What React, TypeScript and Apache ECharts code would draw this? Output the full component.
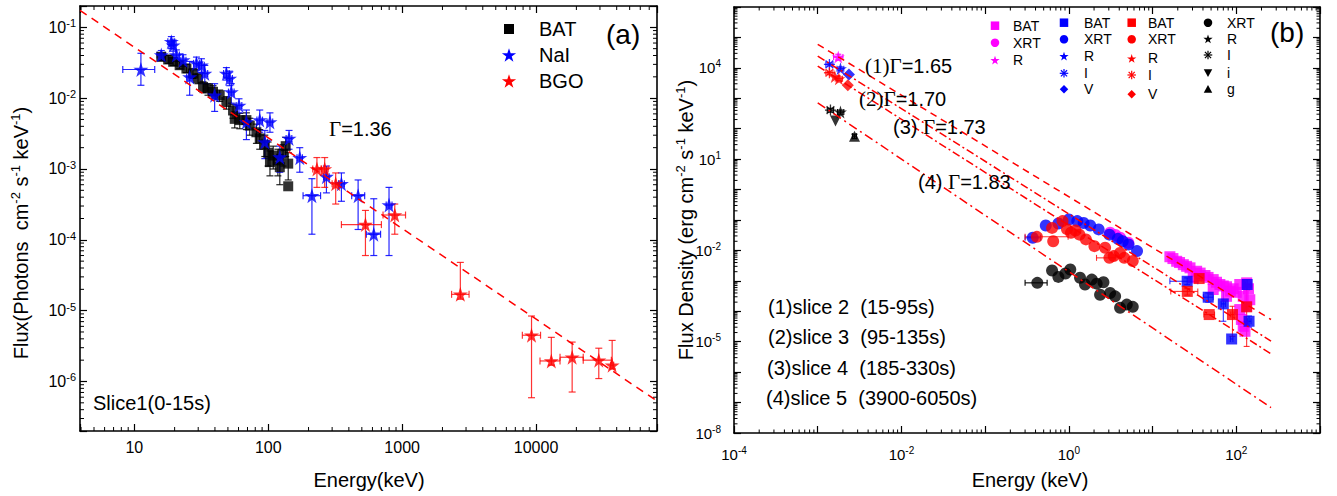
import React, { useEffect, useRef } from 'react';
import * as echarts from 'echarts';

const SANS = '"Liberation Sans", Arial, sans-serif';
const SERIF = '"Liberation Serif", "Times New Roman", serif';
const SP2 = '\u00a0\u00a0';

// ---------------- Panel (a) ----------------
const aXRange = [3.93, 80000];
const aYRange = [2e-7, 0.2];
// BAT: [E keV, F, Flo, Fhi]
const batA = [
  [15.9, 0.0383, 0.034, 0.043], [17.9, 0.0352, 0.031, 0.04], [19.5, 0.0326, 0.029, 0.037],
  [21.8, 0.0292, 0.026, 0.033], [24.5, 0.0262, 0.023, 0.03], [27.4, 0.0223, 0.019, 0.026],
  [29.9, 0.019, 0.016, 0.022], [32.6, 0.0144, 0.012, 0.017], [35.5, 0.0137, 0.011, 0.016],
  [38.7, 0.0123, 0.01, 0.015], [43.4, 0.011, 0.009, 0.013], [48.7, 0.0088, 0.007, 0.0105],
  [54.6, 0.0067, 0.0052, 0.0082], [56.2, 0.0051, 0.0038, 0.0064], [61.3, 0.0049, 0.0037, 0.0061],
  [68.7, 0.0049, 0.0036, 0.0062], [72.8, 0.0041, 0.003, 0.0052], [81.6, 0.0033, 0.0023, 0.0043],
  [86.4, 0.0027, 0.0019, 0.0036], [94.3, 0.0022, 0.0015, 0.003], [99.8, 0.0017, 0.0011, 0.0024],
  [103, 0.00125, 0.0008, 0.0018], [109, 0.00155, 0.001, 0.0021], [118, 0.00132, 0.0008, 0.0019],
  [122, 0.00106, 0.0006, 0.0016], [129, 0.00164, 0.0011, 0.0022], [135, 0.0021, 0.0015, 0.0028],
  [141, 0.00119, 0.0007, 0.0017], [141, 0.00057, 0.00057, 0.00057],
];
// NaI: [E, F, Elo, Ehi, Flo, Fhi]
const naiA = [
  [11.2, 0.0254, 8.2, 14.2, 0.0152, 0.043], [15.9, 0.0406, 14.8, 17, 0.034, 0.047],
  [18.9, 0.0625, 17.8, 20, 0.05, 0.074], [19.5, 0.056, 18.5, 20.5, 0.046, 0.066],
  [20.6, 0.0406, 19.5, 21.7, 0.033, 0.048], [23.1, 0.0344, 22, 24.3, 0.028, 0.041],
  [25.9, 0.0199, 24.6, 27.2, 0.011, 0.033], [29.1, 0.031, 27.7, 30.6, 0.025, 0.038],
  [31.7, 0.0292, 30.2, 33.3, 0.023, 0.036], [33.6, 0.0223, 32, 35.3, 0.016, 0.029],
  [39.8, 0.011, 37.9, 41.8, 0.0065, 0.016], [48.7, 0.0223, 46.4, 51.1, 0.018, 0.027],
  [51.5, 0.019, 49.1, 54, 0.015, 0.024], [53, 0.0122, 50.5, 55.6, 0.0085, 0.016],
  [60.5, 0.0079, 57.6, 63.5, 0.0062, 0.0098], [68.7, 0.0046, 65.4, 72, 0.0026, 0.0068],
  [86.4, 0.0049, 82.3, 90.6, 0.0033, 0.0068], [94.3, 0.0024, 89.8, 98.9, 0.0014, 0.0035],
  [103, 0.0046, 98, 108, 0.0033, 0.0062], [122, 0.00147, 116, 128, 0.0009, 0.0021],
  [143, 0.0027, 136, 150, 0.0019, 0.0035], [172, 0.00144, 164, 180, 0.0009, 0.002],
  [212, 0.00042, 182, 246, 0.00012, 0.00073], [272, 0.00078, 259, 285, 0.00046, 0.0011],
  [352, 0.00062, 335, 370, 0.00035, 0.00088], [469, 0.00042, 420, 525, 0.00014, 0.0007],
  [614, 0.00012, 540, 690, 0.00006, 0.00038], [798, 0.00031, 760, 840, 0.00006, 0.00055],
];
// BGO: [E, F, Elo, Ehi, Flo, Fhi]
const bgoA = [
  [231, 0.001, 215, 248, 0.00055, 0.00145], [264, 0.001, 250, 280, 0.00055, 0.00145],
  [319, 0.00062, 300, 340, 0.00032, 0.00088], [532, 0.000164, 352, 700, 0.00006, 0.00026],
  [881, 0.000224, 720, 1060, 0.00012, 0.00032], [2720, 1.7e-5, 2340, 3160, 1.45e-5, 4.8e-5],
  [9250, 4.5e-6, 7900, 10800, 5.9e-7, 8.4e-6], [13000, 1.95e-6, 10700, 15100, 1.7e-6, 4.2e-6],
  [18600, 2.2e-6, 15100, 22500, 7.1e-7, 3.6e-6], [29400, 2.0e-6, 22500, 36500, 1.1e-6, 2.95e-6],
  [37000, 1.7e-6, 36000, 38000, 1.5e-6, 3.8e-6],
];
const fitA = { norm: 1.0, index: 1.28, lo: 3.93, hi: 80000 };
const legendA = ['BAT', 'NaI', 'BGO'];

// ---------------- Panel (b) ----------------
const bXRange = [1e-4, 1e3];
const bYRange = [1e-8, 1e6];
// magenta, slice 2
const magBAT = [
  [16.1, 6.2e-3], [17.5, 5.4e-3], [19.4, 4.4e-3], [21, 4.0e-3], [23.3, 3.4e-3], [25.5, 3.0e-3],
  [28, 2.68e-3], [30.6, 1.26e-3], [33.6, 2.07e-3], [37, 1.8e-3], [42.3, 1.5e-3], [46, 1.3e-3],
  [53, 1.1e-3], [53, 5.2e-4], [58, 9e-4], [63.7, 7.6e-4], [70, 6.8e-4], [76.5, 6.4e-4],
  [76.5, 3.1e-4], [85, 4.6e-4], [91.9, 5.5e-4], [100, 4.2e-4], [110, 7.6e-4], [110, 1.14e-4],
  [115, 5.4e-5], [121, 3.1e-4], [121, 3.2e-5], [127, 2.2e-5], [133, 8.6e-4], [133, 1.46e-4],
  [140, 5.5e-4], [145, 2.4e-4],
];
const magXRT = [[3.11, 0.038], [4.1, 0.026], [5.14, 0.0178], [3.6, 0.032]];
const magR = [[1.76e-3, 2.26e4, 1.55e-3, 2.0e-3, 1.8e4, 2.8e4]];
// blue, slice 3
const bluBAT = [
  [25.9, 9.7e-4, 16.1, 34.7, 7.5e-4, 1.25e-3], [46.2, 2.9e-4, 40.5, 53, 2.0e-4, 4.0e-4],
  [70, 1.75e-4, 66, 74, 4.7e-5, 5.1e-4], [135, 7.6e-4, 128, 150, 5e-4, 1.1e-3],
  [142, 4.7e-5, 135, 150, 3e-5, 7e-5], [88, 1.23e-5, 85, 91, 1.23e-5, 1.23e-5],
];
const bluXRT = [
  [0.37, 0.026, 0.3, 0.46, 0.026, 0.026], [0.53, 0.066], [0.75, 0.077], [1.0, 0.104], [1.26, 0.092],
  [1.8, 0.066], [2.27, 0.049], [3.05, 0.033], [3.85, 0.024], [5.16, 0.0157], [6.52, 0.0095],
  [1.5, 0.08], [4.4, 0.02],
];
const bluR = [[1.87e-3, 9.4e3, 1.7e-3, 2.05e-3, 8.2e3, 1.08e4]];
const bluI = [[1.38e-3, 1.3e4, 1.25e-3, 1.52e-3, 1.15e4, 1.45e4]];
const bluV = [[2.36e-3, 6.1e3]];
// red, slice 4
const redBAT = [
  [36, 1.19e-3, 33, 39, 1.0e-3, 1.4e-3], [26, 4.5e-4, 16.5, 34.7, 3.4e-4, 5.6e-4],
  [47.5, 7.8e-5, 41, 55, 7.8e-5, 7.8e-5], [90, 7.8e-5, 86, 94, 1.5e-5, 1.46e-4],
  [133, 1.4e-4, 128, 138, 7e-6, 7.6e-4],
];
const redXRT = [
  [0.415, 0.028, 0.3, 0.98, 0.028, 0.028], [0.65, 0.02], [0.63, 0.055], [0.84, 0.092],
  [1.06, 0.038], [1.34, 0.033], [1.6, 0.023], [2.02, 0.0138], [2.71, 0.0122],
  [3.05, 0.0057, 2.14, 3.63, 0.0057, 0.0057], [3.43, 0.0065], [4.08, 0.0083], [4.59, 0.0057],
  [5.8, 0.0045], [1.2, 0.045], [0.95, 0.05],
];
const redR = [[1.79e-3, 4.4e3, 1.62e-3, 1.98e-3, 3.8e3, 5.1e3], [1.6e-3, 5.2e3]];
const redI = [[1.38e-3, 6.9e3, 1.25e-3, 1.52e-3, 6.0e3, 7.8e3]];
const redV = [[2.29e-3, 2.66e3]];
// black, slice 5
const blkXRT = [
  [0.42, 8.6e-4, 0.3, 0.55, 8.6e-4, 8.6e-4], [0.63, 2.2e-3], [0.75, 1.35e-3], [0.91, 1.74e-3],
  [1.04, 2.35e-3], [1.36, 1.26e-3], [1.56, 7.6e-4], [1.88, 1.1e-3], [2.15, 8.1e-4], [2.59, 9.0e-4],
  [2.36, 3.5e-4], [3.11, 4.0e-4], [3.57, 3.1e-4], [4.09, 1.3e-4], [4.92, 1.66e-4], [5.8, 1.4e-4],
];
const blkR = [[1.87e-3, 352, 1.72e-3, 2.05e-3, 300, 410]];
const blkI = [[1.42e-3, 409, 1.3e-3, 1.55e-3, 350, 470]];
const blki = [[1.63e-3, 178]];
const blkg = [[2.75e-3, 57, 2.6e-3, 2.9e-3, 48, 66]];
// power-law fits: F = norm * E^-index
const fitsB = [
  { norm: 0.58, index: 1.67, lo: 1e-3, hi: 260, dash: [7, 5] },
  { norm: 0.158, index: 1.73, lo: 1e-3, hi: 260, dash: [8, 3, 2, 3] },
  { norm: 0.066, index: 1.746, lo: 1e-3, hi: 260, dash: [8, 3, 2, 3] },
  { norm: 0.002, index: 1.85, lo: 1e-3, hi: 260, dash: [9, 4, 2, 4] },
];
const legendMag = ['BAT', 'XRT', 'R'];
const legendBlu = ['BAT', 'XRT', 'R', 'I', 'V'];
const legendRed = ['BAT', 'XRT', 'R', 'I', 'V'];
const legendBlk = ['XRT', 'R', 'I', 'i', 'g'];

// ---------------- symbols ----------------
const SQ = 'path://M0,0 L10,0 L10,10 L0,10 Z';
const DIA = 'path://M5,0 L10,5 L5,10 L0,5 Z';
const TRI_UP = 'path://M5,0 L10,9 L0,9 Z';
const TRI_DN = 'path://M0,0 L10,0 L5,9 Z';
const STAR = 'path://M50,0 L61.2,34.5 L97.6,34.5 L68.2,55.9 L79.4,90.5 L50,69.1 L20.6,90.5 L31.8,55.9 L2.4,34.5 L38.8,34.5 Z';
const ASTER = 'path://M50,0 L50,100 M0,50 L100,50 M15,15 L85,85 M85,15 L15,85';

const BLUE = '#0000ff';
const RED = '#ff0000';
const MAG = '#ff00ff';
const BLK = '#000000';

function to6(r: number[]) {
  if (r.length === 6) return r;
  if (r.length === 4) return [r[0], r[1], r[0], r[0], r[2], r[3]];
  return [r[0], r[1], r[0], r[0], r[1], r[1]];
}

function errSeries(rows: number[][], color: string, gi: number, cap: number, lw: number, opacity = 1) {
  return {
    type: 'custom', xAxisIndex: gi * 2, yAxisIndex: gi * 2, silent: true, z: 2,
    data: rows.map(to6), encode: { x: 0, y: 1 },
    renderItem: (params: any, api: any) => {
      const x = api.value(0), y = api.value(1), xl = api.value(2), xh = api.value(3), yl = api.value(4), yh = api.value(5);
      const c = api.coord([x, y]);
      const st = { stroke: color, lineWidth: lw, opacity };
      const ch: any[] = [];
      if (yl !== yh) {
        const a = api.coord([x, yh])[1], b = api.coord([x, yl])[1];
        ch.push({ type: 'line', shape: { x1: c[0], y1: a, x2: c[0], y2: b }, style: st });
        ch.push({ type: 'line', shape: { x1: c[0] - cap, y1: a, x2: c[0] + cap, y2: a }, style: st });
        ch.push({ type: 'line', shape: { x1: c[0] - cap, y1: b, x2: c[0] + cap, y2: b }, style: st });
      }
      if (xl !== xh) {
        const l = api.coord([xl, y])[0], r = api.coord([xh, y])[0];
        ch.push({ type: 'line', shape: { x1: l, y1: c[1], x2: r, y2: c[1] }, style: st });
        ch.push({ type: 'line', shape: { x1: l, y1: c[1] - cap, x2: l, y2: c[1] + cap }, style: st });
        ch.push({ type: 'line', shape: { x1: r, y1: c[1] - cap, x2: r, y2: c[1] + cap }, style: st });
      }
      return { type: 'group', children: ch };
    },
  };
}

function scat(name: string, rows: number[][], symbol: string, size: number, color: string, gi: number, stroke = false) {
  return {
    name, type: 'scatter', xAxisIndex: gi * 2, yAxisIndex: gi * 2, z: 3,
    data: rows.map((r) => [r[0], r[1]]), symbol, symbolSize: size,
    itemStyle: stroke ? { color: 'none', borderColor: color, borderWidth: 1.3 } : { color },
    emphasis: { disabled: true },
  };
}

function fitSeries(f: any, gi: number, dash: number[]) {
  return {
    type: 'line', xAxisIndex: gi * 2, yAxisIndex: gi * 2, z: 4, silent: true, symbol: 'none',
    data: [[f.lo, f.norm * Math.pow(f.lo, -f.index)], [f.hi, f.norm * Math.pow(f.hi, -f.index)]],
    lineStyle: { color: RED, width: 1.5, type: dash },
  };
}

function minorVals(min: number, max: number) {
  const out: number[] = [];
  for (let e = Math.floor(Math.log10(min)); e <= Math.ceil(Math.log10(max)); e++) {
    for (let m = 2; m <= 9; m++) {
      const v = m * Math.pow(10, e);
      if (v > min * 1.0001 && v < max * 0.9999) out.push(v);
    }
  }
  return out;
}

function minorTickSeries(gi: number, xr: number[], yr: number[], len: number) {
  const xRef = Math.sqrt(xr[0] * xr[1]);
  const yRef = Math.sqrt(yr[0] * yr[1]);
  const st = { stroke: '#000', lineWidth: 1 };
  return [
    {
      type: 'custom', xAxisIndex: gi * 2, yAxisIndex: gi * 2, silent: true, z: 5,
      data: minorVals(xr[0], xr[1]).map((v) => [v, yRef]), encode: { x: 0, y: 1 },
      renderItem: (params: any, api: any) => {
        const cs = params.coordSys;
        const x = api.coord([api.value(0), api.value(1)])[0];
        return {
          type: 'group', children: [
            { type: 'line', shape: { x1: x, y1: cs.y + cs.height, x2: x, y2: cs.y + cs.height - len }, style: st },
            { type: 'line', shape: { x1: x, y1: cs.y, x2: x, y2: cs.y + len }, style: st },
          ],
        };
      },
    },
    {
      type: 'custom', xAxisIndex: gi * 2, yAxisIndex: gi * 2, silent: true, z: 5,
      data: minorVals(yr[0], yr[1]).map((v) => [xRef, v]), encode: { x: 0, y: 1 },
      renderItem: (params: any, api: any) => {
        const cs = params.coordSys;
        const y = api.coord([api.value(0), api.value(1)])[1];
        return {
          type: 'group', children: [
            { type: 'line', shape: { x1: cs.x, y1: y, x2: cs.x + len, y2: y }, style: st },
            { type: 'line', shape: { x1: cs.x + cs.width, y1: y, x2: cs.x + cs.width - len, y2: y }, style: st },
          ],
        };
      },
    },
  ];
}

const isDecade = (v: number) => {
  const l = Math.log10(v);
  return Math.abs(l - Math.round(l)) < 1e-6;
};
const powLabel = (every: number, offset: number) => (v: number) => {
  if (!isDecade(v)) return '';
  const e = Math.round(Math.log10(v));
  if ((((e - offset) % every) + every) % every !== 0) return '';
  return `{b|10}{s|${e}}`;
};

function axis(gi: number, range: number[], pos: string, split: number, label: any, interval?: number) {
  const main = pos === 'bottom' || pos === 'left';
  const a: any = {
    type: 'log', gridIndex: gi, position: pos, min: range[0], max: range[1], splitNumber: split,
    axisLine: { show: true, onZero: false, lineStyle: { color: '#000', width: 1.6 } },
    axisTick: { show: true, inside: true, length: 7, lineStyle: { color: '#000', width: 1.2 } },
    splitLine: { show: false },
    minorTick: { show: false },
    axisLabel: main ? label : { show: false },
  };
  if (interval) a.interval = interval;
  return a;
}

const tickRich = (b: number, s: number, pad: number) => ({
  b: { fontSize: b, fontFamily: SANS, color: '#000' },
  s: { fontSize: s, fontFamily: SANS, color: '#000', padding: [0, 0, pad, 0] },
});

const nameRich = {
  n: { fontSize: 20, fontFamily: SANS, fill: '#000', color: '#000' },
  s: { fontSize: 13, fontFamily: SANS, fill: '#000', color: '#000', padding: [0, 0, 11, 0] },
  g: { fontSize: 21, fontFamily: SERIF, fill: '#000', color: '#000' },
};

function txt(x: number, y: number, text: string, opt: any = {}) {
  return {
    type: 'text', x, y, rotation: opt.rotation || 0, z: 10,
    style: {
      text, rich: nameRich, fill: '#000', fontSize: opt.size || 20, fontFamily: opt.family || SANS,
      align: opt.align || 'left', verticalAlign: 'middle',
    },
  };
}

// legend marker drawn with graphic primitives
function starPts(cx: number, cy: number, r: number) {
  const pts: number[][] = [];
  for (let k = 0; k < 10; k++) {
    const ang = -Math.PI / 2 + (k * Math.PI) / 5;
    const rr = k % 2 === 0 ? r : r * 0.382;
    pts.push([cx + rr * Math.cos(ang), cy + rr * Math.sin(ang)]);
  }
  return pts;
}
function marker(kind: string, cx: number, cy: number, s: number, color: string): any {
  const h = s / 2;
  const fill = { fill: color };
  switch (kind) {
    case 'square':
      return { type: 'rect', shape: { x: cx - h, y: cy - h, width: s, height: s }, style: fill, z: 10 };
    case 'circle':
      return { type: 'circle', shape: { cx, cy, r: h }, style: fill, z: 10 };
    case 'star':
      return { type: 'polygon', shape: { points: starPts(cx, cy + 0.6, h * 1.15) }, style: fill, z: 10 };
    case 'diamond':
      return { type: 'polygon', shape: { points: [[cx, cy - h], [cx + h, cy], [cx, cy + h], [cx - h, cy]] }, style: fill, z: 10 };
    case 'triup':
      return { type: 'polygon', shape: { points: [[cx, cy - h], [cx + h, cy + h * 0.8], [cx - h, cy + h * 0.8]] }, style: fill, z: 10 };
    case 'tridn':
      return { type: 'polygon', shape: { points: [[cx - h, cy - h * 0.8], [cx + h, cy - h * 0.8], [cx, cy + h]] }, style: fill, z: 10 };
    default: {
      const st = { stroke: color, lineWidth: 1.2 };
      const d = h * 0.72;
      return {
        type: 'group', z: 10, children: [
          { type: 'line', shape: { x1: cx, y1: cy - h, x2: cx, y2: cy + h }, style: st },
          { type: 'line', shape: { x1: cx - h, y1: cy, x2: cx + h, y2: cy }, style: st },
          { type: 'line', shape: { x1: cx - d, y1: cy - d, x2: cx + d, y2: cy + d }, style: st },
          { type: 'line', shape: { x1: cx + d, y1: cy - d, x2: cx - d, y2: cy + d }, style: st },
        ],
      };
    }
  }
}
function legendBlock(names: string[], kinds: string[], color: string, ix: number, tx: number, ys: number[], size: number, font: number) {
  const out: any[] = [];
  names.forEach((n, i) => {
    out.push(marker(kinds[i], ix, ys[i], size, color));
    out.push({ type: 'text', x: tx, y: ys[i], z: 10, style: { text: n, fill: '#000', fontSize: font, fontFamily: SANS, align: 'left', verticalAlign: 'middle' } });
  });
  return out;
}

function buildOption() {
  const series: any[] = [];
  // panel a
  series.push(...minorTickSeries(0, aXRange, aYRange, 4));
  series.push(errSeries(batA, BLK, 0, 3.5, 1.2, 0.85));
  series.push(errSeries(naiA, BLUE, 0, 3.5, 1.2, 0.85));
  series.push(errSeries(bgoA, RED, 0, 3.5, 1.2, 0.8));
  series.push(scat('BAT', batA, SQ, 10, BLK, 0));
  series.push(scat('NaI', naiA, STAR, 15, BLUE, 0));
  series.push(scat('BGO', bgoA, STAR, 15, RED, 0));
  series.push(fitSeries(fitA, 0, [8, 6]));
  // panel b
  series.push(...minorTickSeries(1, bXRange, bYRange, 3.5));
  series.push(errSeries([...magR, ...magBAT], MAG, 1, 3, 1.1));
  series.push(errSeries([...bluBAT, ...bluXRT, ...bluR, ...bluI], BLUE, 1, 3, 1.1, 0.8));
  series.push(errSeries([...redBAT, ...redXRT, ...redR, ...redI], RED, 1, 3, 1.1, 0.8));
  series.push(errSeries([...blkXRT, ...blkR, ...blkI, ...blkg], BLK, 1, 3, 1.1));
  series.push(scat('slice2 BAT', magBAT, SQ, 11, MAG, 1));
  series.push(scat('slice2 XRT', magXRT, 'circle', 12, MAG, 1));
  series.push(scat('slice2 R', magR, STAR, 13, MAG, 1));
  series.push(scat('slice3 BAT', bluBAT, SQ, 11, BLUE, 1));
  series.push(scat('slice3 XRT', bluXRT, 'circle', 12, BLUE, 1));
  series.push(scat('slice3 R', bluR, STAR, 13, BLUE, 1));
  series.push(scat('slice3 I', bluI, ASTER, 11, BLUE, 1, true));
  series.push(scat('slice3 V', bluV, DIA, 12, BLUE, 1));
  series.push(scat('slice4 BAT', redBAT, SQ, 11, RED, 1));
  series.push(scat('slice4 XRT', redXRT, 'circle', 12, RED, 1));
  series.push(scat('slice4 R', redR, STAR, 13, RED, 1));
  series.push(scat('slice4 I', redI, ASTER, 11, RED, 1, true));
  series.push(scat('slice4 V', redV, DIA, 12, RED, 1));
  series.push(scat('slice5 XRT', blkXRT, 'circle', 12, BLK, 1));
  series.push(scat('slice5 R', blkR, STAR, 13, BLK, 1));
  series.push(scat('slice5 I', blkI, ASTER, 11, BLK, 1, true));
  series.push(scat('slice5 i', blki, TRI_DN, 11, BLK, 1));
  series.push(scat('slice5 g', blkg, TRI_UP, 11, BLK, 1));
  fitsB.forEach((f) => series.push(fitSeries(f, 1, f.dash)));

  const aXLabel = {
    show: true, margin: 8, fontSize: 16, fontFamily: SANS, color: '#000',
    formatter: (v: number) => (isDecade(v) ? String(Math.round(v)) : ''),
  };
  const aYLabel = { show: true, margin: 4, formatter: powLabel(1, 0), rich: tickRich(16, 11, 8) };
  const bXLabel = { show: true, margin: 12, formatter: powLabel(2, 0), rich: tickRich(15, 10, 8) };
  const bYLabel = { show: true, margin: 13, formatter: powLabel(3, -8), rich: tickRich(15, 10, 8) };

  const legends = [
    ...legendBlock(legendA.slice(0, 1), ['square'], BLK, 509, 539, [29], 10, 20),
    ...legendBlock(legendA.slice(1, 2), ['star'], BLUE, 509, 539, [55], 13, 20),
    ...legendBlock(legendA.slice(2, 3), ['star'], RED, 509, 539, [81], 13, 20),
    ...legendBlock(legendMag, ['square', 'circle', 'star'], MAG, 995, 1013, [25.7, 42.7, 60], 8.5, 14),
    ...legendBlock(legendBlu, ['square', 'circle', 'star', 'aster', 'diamond'], BLUE, 1064, 1084, [22.7, 39.3, 56, 73.3, 89.3], 8.5, 14),
    ...legendBlock(legendRed, ['square', 'circle', 'star', 'aster', 'diamond'], RED, 1131.7, 1148, [22.7, 39.3, 58.3, 75, 94.3], 8.5, 14),
    ...legendBlock(legendBlk, ['circle', 'star', 'aster', 'tridn', 'triup'], BLK, 1208, 1227, [22.7, 38.7, 55, 72.7, 89.3], 8.5, 14),
  ];

  return {
    animation: false,
    backgroundColor: '#ffffff',
    grid: [
      { left: 80, top: 6, width: 577, height: 425 },
      { left: 734, top: 7, width: 586, height: 426 },
    ],
    xAxis: [
      axis(0, aXRange, 'bottom', 5, aXLabel),
      axis(0, aXRange, 'top', 5, aXLabel),
      axis(1, bXRange, 'bottom', 7, bXLabel, 1),
      axis(1, bXRange, 'top', 7, bXLabel, 1),
    ],
    yAxis: [
      axis(0, aYRange, 'left', 6, aYLabel),
      axis(0, aYRange, 'right', 6, aYLabel),
      axis(1, bYRange, 'left', 14, bYLabel, 1),
      axis(1, bYRange, 'right', 14, bYLabel, 1),
    ],
    graphic: [
      ...legends,
      txt(21, 233, `{n|Flux(Photons${SP2}cm}{s|-2}{n| s}{s|-1}{n| keV}{s|-1}{n|)}`, { rotation: Math.PI / 2, align: 'center' }),
      txt(369, 480, 'Energy(keV)', { align: 'center' }),
      txt(329, 129, '{g|Γ}{n|=1.36}'),
      txt(93, 403, 'Slice1(0-15s)'),
      txt(606, 34, '(a)', { size: 28 }),
      txt(686, 220, '{n|Flux Density (erg cm}{s|-2}{n| s}{s|-1}{n| keV}{s|-1}{n|)}', { rotation: Math.PI / 2, align: 'center' }),
      txt(1030, 480, 'Energy (keV)', { align: 'center' }),
      txt(865, 66, '{g|(1)Γ}{n|=1.65}'),
      txt(859, 99, '{g|(2)Γ}{n|=1.70}'),
      txt(893, 127, '{n|(3) }{g|Γ}{n|=1.73}'),
      txt(918, 182, '{n|(4) }{g|Γ}{n|=1.83}'),
      txt(768, 307, `(1)slice 2${SP2}(15-95s)`),
      txt(768, 337, `(2)slice 3${SP2}(95-135s)`),
      txt(767, 368, `(3)slice 4${SP2}(185-330s)`),
      txt(766, 398, `(4)slice 5${SP2}(3900-6050s)`),
      txt(1270, 32, '(b)', { size: 28 }),
    ],
    series,
  };
}

export default function App() {
  const ref = useRef<HTMLDivElement>(null);
  useEffect(() => {
    const chart = echarts.init(ref.current as HTMLDivElement, null, { renderer: 'svg', width: 1337, height: 496 });
    chart.setOption(buildOption() as any);
    return () => chart.dispose();
  }, []);
  return (
    <div
      ref={ref}
      style={{ position: 'absolute', left: 0, top: 0, width: 1337, height: 496, background: '#fff' }}
    />
  );
}
